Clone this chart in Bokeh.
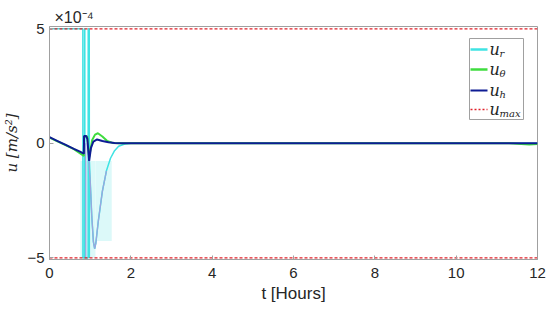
import math
from bokeh.plotting import figure
from bokeh.models import Range1d, Label, FixedTicker
from bokeh.embed import file_html
from bokeh.resources import INLINE

NaN = float("nan")

# ---- data (u in units of 1e-4 m/s^2, t in hours) ----
t_r = [0, 0.82, 0.822, 0.862, 0.864, 0.868, 0.870, 0.95, 0.952, 0.978, 0.98, 0.982,
       1.0, 1.04, 1.08, 1.11, 1.14, 1.2, 1.3, 1.4, 1.5, 1.6, 1.7, 1.85, 2.0, 12]
u_r = [5, 5, -5, -5, 5, 5, -5, -5, 5, 5, -5, -0.8,
       -1.6, -3.2, -4.3, -4.6, -4.35, -3.4, -2.1, -1.2, -0.65, -0.32, -0.13, -0.03, 0.0, 0.0]

t_dip = [0.89, 0.892, NaN, 0.965, 1.0, 1.04, 1.08, 1.11, 1.14, 1.2, 1.3, 1.4]
u_dip = [0.0, -5.0, NaN, -0.75, -1.6, -3.2, -4.3, -4.6, -4.35, -3.4, -2.1, -1.2]

t_theta = [0, 0.3, 0.6, 0.845, 0.85, 0.93, 0.975, 1.05, 1.12, 1.19, 1.3, 1.42, 1.55, 1.7, 11.3, 11.8, 12]
u_theta = [0.25, 0.0, -0.25, -0.55, 0.3, 0.3, -0.6, 0.15, 0.38, 0.44, 0.3, 0.1, 0.02, 0.0, 0.0, -0.05, -0.03]

t_h = [0, 0.2, 0.4, 0.6, 0.75, 0.845, 0.85, 0.9, 0.93, 0.975, 1.02, 1.08, 1.17, 1.3, 1.45, 1.6, 1.8, 2.0, 12]
u_h = [0.27, 0.1, -0.07, -0.24, -0.36, -0.45, 0.32, 0.32, 0.2, -0.77, -0.2, 0.08, 0.17, 0.1, 0.05, 0.02, 0.0, 0.0, 0.0]

shade_left = [0.76, 1.13]
shade_right = [1.13, 1.53]
shade_top = [-0.77, -0.77]
shade_bottom = [-5.0, -4.26]

t_lim = [0, 12]
u_max = 5

x_ticks = [0, 2, 4, 6, 8, 10, 12]
y_ticks = [-5, 0, 5]

# ---- styling ----
CYAN = "#3fe3e3"
GREEN = "#3fdc3f"
NAVY = "#0e1c94"
LAV = "#9aa6de"
RED = "#e0202a"
AXC = "#a0a0a0"
TXT = "#262626"

X0, X1 = 0, 12
Y0, Y1 = -5.07, 5.1
FW, FH = 488, 233

def fx(px):
    return X0 + px / FW * (X1 - X0)

def fy(py):
    return Y1 - py / FH * (Y1 - Y0)

p = figure(width=550, height=312, x_range=Range1d(X0, X1), y_range=Range1d(Y0, Y1),
           output_backend="svg", toolbar_location=None,
           min_border_left=49, min_border_right=13, min_border_top=26, min_border_bottom=53)
p.background_fill_color = "white"
p.border_fill_color = "white"
p.outline_line_color = AXC
p.grid.visible = False

p.title.text = "×10⁻⁴"
p.title.text_font = "Liberation Sans"
p.title.text_font_size = "16px"
p.title.text_font_style = "normal"
p.title.text_color = TXT
p.title.align = "left"
p.title.offset = 5
p.title.standoff = 2

for ax in (p.xaxis[0], p.yaxis[0]):
    ax.axis_line_color = AXC
    ax.major_tick_line_color = AXC
    ax.major_tick_in = 4
    ax.major_tick_out = 0
    ax.minor_tick_line_color = None
    ax.major_label_text_font = "Liberation Sans"
    ax.major_label_text_font_size = "15px"
    ax.major_label_text_color = TXT
p.xaxis.ticker = FixedTicker(ticks=x_ticks)
p.yaxis.ticker = FixedTicker(ticks=y_ticks)
p.xaxis.major_label_standoff = 8
p.yaxis.major_label_standoff = 5

p.xaxis.axis_label = "t [Hours]"
p.xaxis.axis_label_text_font = "Liberation Sans"
p.xaxis.axis_label_text_font_style = "normal"
p.xaxis.axis_label_text_font_size = "17px"
p.xaxis.axis_label_text_color = TXT
p.xaxis.axis_label_standoff = 3

p.yaxis.axis_label = "u [m/s²]"
p.yaxis.axis_label_text_font = "DejaVu Serif"
p.yaxis.axis_label_text_font_style = "italic"
p.yaxis.axis_label_text_font_size = "15px"
p.yaxis.axis_label_text_color = TXT
p.yaxis.axis_label_standoff = 3

p.quad(left=shade_left, right=shade_right, top=shade_top, bottom=shade_bottom,
       fill_color="#dcf9f9", line_color=None)
p.line(t_r, u_r, line_color=CYAN, line_width=1.5)
p.line(t_dip, u_dip, line_color=LAV, line_width=1.3)
p.line(t_theta, u_theta, line_color=GREEN, line_width=2)
p.line(t_h, u_h, line_color=NAVY, line_width=2)
p.line(t_lim, [u_max, u_max], line_color=RED, line_width=1.2, line_dash="3 2")
p.line(t_lim, [-u_max, -u_max], line_color=RED, line_width=1.2, line_dash="3 2")

# legend box (glyph, so that the sample lines can sit on top of it)
p.quad(left=[fx(420)], right=[fx(474)], top=[fy(12)], bottom=[fy(93)],
       fill_color="white", line_color=AXC, line_width=1)
rows = [23, 43, 64, 83]
cols = [CYAN, GREEN, NAVY, RED]
dashes = ["solid", "solid", "solid", "2 2"]
widths = [2.5, 2.5, 2, 1.5]
subs = ["r", "θ", "h", "max"]
for ry, c, d, w, s in zip(rows, cols, dashes, widths, subs):
    p.line([fx(421), fx(438)], [fy(ry), fy(ry)], line_color=c, line_width=w, line_dash=d)
    p.add_layout(Label(x=fx(440), y=fy(ry), text="u", text_font="DejaVu Serif",
                       text_font_style="italic", text_font_size="16px",
                       text_color=TXT, text_baseline="middle"))
    p.add_layout(Label(x=fx(450), y=fy(ry + 4), text=s, text_font="DejaVu Serif",
                       text_font_style="italic", text_font_size="10px",
                       text_color=TXT, text_baseline="middle"))

open("out.html", "w").write(file_html(p, INLINE))
